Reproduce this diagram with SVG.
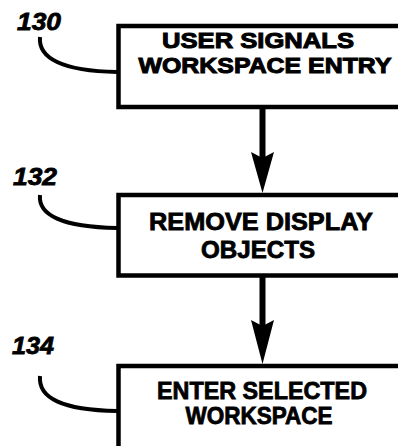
<svg xmlns="http://www.w3.org/2000/svg" width="398" height="446" viewBox="0 0 398 446">
<style>
.box{fill:#fff;stroke:#000;stroke-width:4.5}
.t{font-family:"Liberation Sans",Arial,sans-serif;font-weight:bold;font-size:23.5px;fill:#000;stroke:#000;stroke-width:0.8;text-anchor:middle}
.s{font-size:22px;stroke-width:1}
.ref{font-family:"Liberation Sans",Arial,sans-serif;font-weight:bold;font-style:italic;font-size:24px;fill:#000;stroke:#000;stroke-width:0.8}
.lead{fill:none;stroke:#000;stroke-width:4}
.shaft{stroke:#000;stroke-width:6}
</style>
<rect width="398" height="446" fill="#fff"/>
<g id="connectors">
<line class="shaft" x1="262.5" y1="109" x2="262.5" y2="160"/>
<path d="M251,152 L262.5,158 L274,152 L262.5,193 Z" fill="#000"/>
<line class="shaft" x1="262.5" y1="277" x2="262.5" y2="328"/>
<path d="M251,320 L262.5,326 L274,320 L262.5,364 Z" fill="#000"/>
</g>
<g id="node130">
<rect class="box" x="118.5" y="26" width="290" height="81"/>
<text class="t s" x="258" y="48" textLength="192" lengthAdjust="spacingAndGlyphs">USER SIGNALS</text>
<text class="t s" x="265" y="73" textLength="253" lengthAdjust="spacingAndGlyphs">WORKSPACE ENTRY</text>
</g>
<g id="node132">
<rect class="box" x="118.5" y="195" width="290" height="80.5"/>
<text class="t" x="261" y="230" textLength="224" lengthAdjust="spacingAndGlyphs">REMOVE DISPLAY</text>
<text class="t" x="258" y="258" textLength="114" lengthAdjust="spacingAndGlyphs">OBJECTS</text>
</g>
<g id="node134">
<rect class="box" x="118.5" y="366" width="290" height="90"/>
<text class="t" x="262" y="399" textLength="210" lengthAdjust="spacingAndGlyphs">ENTER SELECTED</text>
<text class="t" x="259" y="424" textLength="147" lengthAdjust="spacingAndGlyphs">WORKSPACE</text>
</g>
<g id="labels">
<text class="ref" x="17" y="30" textLength="44" lengthAdjust="spacingAndGlyphs">130</text>
<path class="lead" d="M40,37 C38,58 62,71 117,72"/>
<text class="ref" x="13" y="185" textLength="44" lengthAdjust="spacingAndGlyphs">132</text>
<path class="lead" d="M40,195 C38,215 62,227 117,228"/>
<text class="ref" x="12" y="354" textLength="42" lengthAdjust="spacingAndGlyphs">134</text>
<path class="lead" d="M40,376 C38,398 62,410 117,411"/>
</g>
</svg>
